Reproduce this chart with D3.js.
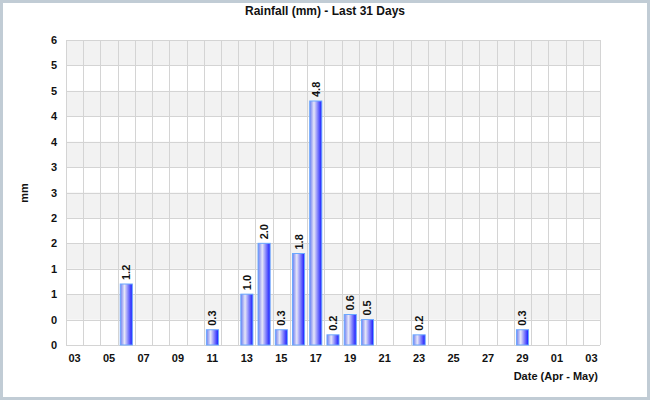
<!DOCTYPE html>
<html>
<head>
<meta charset="utf-8">
<script src="https://cdn.jsdelivr.net/npm/d3@7"></script>
<style>
  body { margin: 0; background: #fff; }
  svg text { font-family: Arial, "Liberation Sans", sans-serif; font-weight: bold; fill: #111; }
</style>
</head>
<body>
<div id="chart"></div>
<script>
// day labels, 03 Apr .. 03 May
var days = ["03","04","05","06","07","08","09","10","11","12","13","14","15","16",
            "17","18","19","20","21","22","23","24","25","26","27","28","29","30",
            "01","02","03"];
var rainfall = [0,0,0,1.2,0,0,0,0,0.3,0,1.0,2.0,0.3,1.8,
                4.8,0.2,0.6,0.5,0,0,0.2,0,0,0,0,0,0.3,0,
                0,0,0];
var yTicks = [0,0.5,1,1.5,2,2.5,3,3.5,4,4.5,5,5.5,6];
var yTickLabels = ["0","0","1","1","2","2","3","3","4","4","5","5","6"];

var width = 650, height = 400;
var margin = {top: 40, right: 50, bottom: 55, left: 66};

var svg = d3.select("#chart").append("svg")
    .attr("width", width).attr("height", height);

// outer frame
svg.append("rect").attr("x", 1.5).attr("y", 1.5)
    .attr("width", width - 3).attr("height", height - 3)
    .attr("fill", "#fff").attr("stroke", "#c1ccd5").attr("stroke-width", 3);

var defs = svg.append("defs");
var grad = defs.append("linearGradient").attr("id", "barGrad")
    .attr("x1", 0).attr("x2", 1).attr("y1", 0).attr("y2", 0);
grad.append("stop").attr("offset", "0%").attr("stop-color", "#6c7cf0");
grad.append("stop").attr("offset", "35%").attr("stop-color", "#e6e6f8");
grad.append("stop").attr("offset", "100%").attr("stop-color", "#1414ff");

var x = d3.scaleBand().domain(d3.range(days.length))
    .range([margin.left, width - margin.right]).padding(0);
var y = d3.scaleLinear().domain([0, 6])
    .range([height - margin.bottom, margin.top]);

var g = svg.append("g");

// shaded bands
for (var i = 0; i < yTicks.length - 1; i++) {
    if (i % 2 == 1) {
        g.append("rect").attr("x", margin.left).attr("y", y(yTicks[i + 1]))
            .attr("width", x.range()[1] - margin.left)
            .attr("height", y(yTicks[i]) - y(yTicks[i + 1]))
            .attr("fill", "#f2f2f2");
    }
}

// horizontal grid
g.selectAll(".hg").data(yTicks).enter().append("line")
    .attr("x1", margin.left).attr("x2", x.range()[1])
    .attr("y1", function(d){ return Math.round(y(d)) + 0.5; })
    .attr("y2", function(d){ return Math.round(y(d)) + 0.5; })
    .attr("stroke", "#d4d4d4");

// vertical grid on day boundaries
var bounds = d3.range(days.length + 1);
g.selectAll(".vg").data(bounds).enter().append("line")
    .attr("x1", function(d){ return Math.round(margin.left + d * x.bandwidth()) + 0.5; })
    .attr("x2", function(d){ return Math.round(margin.left + d * x.bandwidth()) + 0.5; })
    .attr("y1", y(6)).attr("y2", y(0))
    .attr("stroke", "#d4d4d4");

// bars
var barW = x.bandwidth() * 0.7;
var withRain = rainfall.map(function(v, i){ return {i: i, v: v}; })
    .filter(function(d){ return d.v > 0; });

svg.selectAll(".bar").data(withRain).enter().append("rect")
    .attr("x", function(d){ return x(d.i) + (x.bandwidth() - barW) / 2; })
    .attr("y", function(d){ return y(d.v); })
    .attr("width", barW)
    .attr("height", function(d){ return y(0) - y(d.v); })
    .attr("fill", "url(#barGrad)")
    .attr("stroke", "#6aa8ff").attr("stroke-width", 1);

svg.selectAll(".lbl").data(withRain).enter().append("text")
    .attr("transform", function(d){
        return "translate(" + (x(d.i) + x.bandwidth() / 2 + 4) + "," + (y(d.v) - 4) + ") rotate(-90)";
    })
    .attr("font-size", 11)
    .text(function(d){ return d.v.toFixed(1); });

// y axis labels
var yAxis = d3.axisLeft(y).tickValues(yTicks).tickSize(0).tickPadding(9)
    .tickFormat(function(d, i){ return yTickLabels[i]; });
svg.append("g").attr("transform", "translate(" + margin.left + ",0)").call(yAxis)
    .call(function(s){ s.select(".domain").remove(); })
    .selectAll("text").attr("font-size", 11).attr("font-family", null).attr("fill", "#111");

// x axis labels, every other day
var xAxis = d3.axisBottom(x).tickSize(0).tickPadding(9)
    .tickValues(d3.range(0, days.length, 2))
    .tickFormat(function(d){ return days[d]; });
svg.append("g").attr("transform", "translate(0," + y(0) + ")").call(xAxis)
    .call(function(s){ s.select(".domain").remove(); })
    .selectAll("text").attr("font-size", 11).attr("font-family", null).attr("fill", "#111");

// titles
svg.append("text").attr("x", width / 2).attr("y", 15).attr("text-anchor", "middle")
    .attr("font-size", 12).text("Rainfall (mm) - Last 31 Days");
svg.append("text").attr("transform", "translate(28,193) rotate(-90)")
    .attr("text-anchor", "middle").attr("font-size", 11).text("mm");
svg.append("text").attr("x", 598).attr("y", 380).attr("text-anchor", "end")
    .attr("font-size", 11).text("Date (Apr - May)");
</script>
</body>
</html>
